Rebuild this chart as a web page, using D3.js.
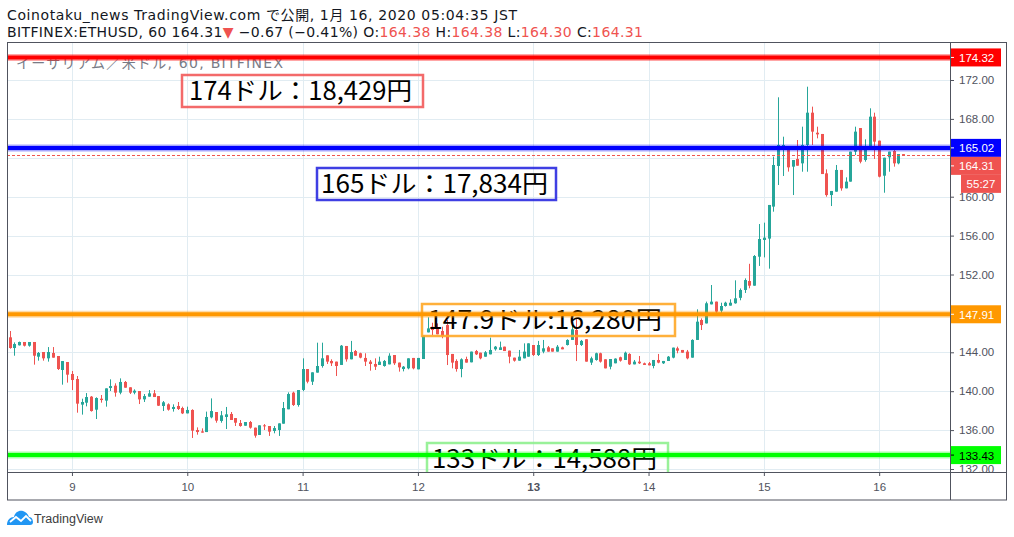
<!DOCTYPE html>
<html><head><meta charset="utf-8">
<script src="https://cdn.jsdelivr.net/npm/d3@7"></script>
<style>
html,body{margin:0;padding:0;background:#fff;}
svg{display:block;font-family:"Liberation Sans","Noto Sans CJK JP",sans-serif;}
</style></head>
<body>
<svg id="chart" width="1014" height="537"></svg>
<script>
// ---------- DATA ----------
const openP = [145.54,144.44,144.72,145.06,144.68,145.06,143.55,144.03,143.38,143.93,143.62,142.18,143.00,141.77,141.25,138.62,138.82,139.44,138.10,139.23,139.03,140.33,140.57,139.85,140.95,140.40,139.85,140.02,139.16,139.44,139.78,139.50,138.48,138.65,138.17,138.48,138.27,137.72,138.07,136.01,135.87,135.80,137.31,137.86,136.94,137.35,137.66,137.24,136.73,136.45,136.83,136.25,135.50,136.49,136.42,135.91,136.01,136.66,138.14,139.85,138.58,140.13,142.28,140.98,141.91,142.59,143.69,143.11,143.04,142.70,144.65,143.28,144.13,143.90,143.42,143.04,142.80,142.70,142.59,142.76,143.72,142.94,142.28,142.35,143.42,142.25,143.31,146.05,146.63,146.39,146.19,146.80,143.83,143.11,142.28,143.31,142.97,144.13,143.96,143.55,143.79,144.31,144.24,144.58,144.17,143.45,143.14,143.38,143.55,144.75,143.72,144.07,144.51,144.41,144.07,144.51,144.75,145.27,146.30,144.75,145.34,142.94,143.21,143.90,143.28,142.52,142.87,143.49,143.21,143.83,142.76,143.04,142.87,142.87,142.59,143.21,142.87,143.11,143.45,144.41,144.24,144.07,143.45,145.27,147.32,146.97,148.93,149.21,148.28,148.76,148.80,149.04,149.60,150.41,151.33,150.85,153.83,155.55,155.69,158.98,163.16,165.15,164.97,163.09,163.88,163.43,165.32,168.64,166.58,166.45,162.40,160.17,160.52,162.75,160.86,161.55,164.63,167.06,163.77,165.14,168.23,165.76,162.16,164.05,164.70,163.43,164.38];
const highP = [146.19,145.02,145.10,145.06,145.06,145.06,144.03,144.03,144.54,144.54,143.62,143.10,143.00,142.08,141.56,139.23,139.81,139.50,139.37,139.61,140.29,141.22,140.81,141.32,141.05,140.40,140.19,140.02,139.71,140.12,140.12,139.50,138.99,138.75,138.65,138.89,138.41,138.41,138.14,136.28,136.18,137.90,139.26,137.86,137.96,138.38,137.86,137.24,137.04,136.83,136.94,136.25,136.49,136.62,136.42,136.42,136.69,138.89,139.88,139.95,140.12,143.38,142.28,141.94,144.99,144.99,143.69,143.28,143.04,144.75,144.65,145.17,144.24,143.96,143.90,143.21,143.38,143.55,143.21,143.90,143.72,142.94,142.59,143.38,143.42,143.42,145.71,147.60,147.04,146.97,146.63,147.32,143.83,143.28,143.38,143.55,144.07,144.24,143.96,144.13,145.51,144.65,145.10,144.58,144.17,143.45,144.24,144.92,144.92,144.75,145.17,145.27,144.65,144.41,144.75,144.58,145.34,146.80,147.40,145.27,145.34,143.55,143.96,143.96,143.28,143.31,143.38,143.55,144.07,143.90,143.21,143.62,142.94,143.00,143.21,143.83,143.11,143.62,144.48,144.58,144.24,144.24,145.34,148.42,147.49,149.21,150.92,149.21,149.10,149.20,149.45,151.40,150.57,151.60,153.10,154.00,157.19,157.33,159.15,164.12,170.22,166.17,164.97,163.77,165.83,167.20,171.31,169.26,167.20,166.45,162.81,160.59,163.26,162.75,161.99,164.63,167.20,167.06,165.90,169.09,168.64,165.76,164.01,164.63,164.80,164.39,164.38];
const lowP = [144.37,143.65,144.70,144.60,144.58,142.73,143.14,143.14,143.04,143.45,142.18,140.67,140.88,140.12,137.79,137.59,138.44,137.90,137.14,138.82,138.41,140.02,139.44,139.68,140.36,139.71,139.68,138.68,138.89,139.44,139.40,138.48,137.96,138.00,137.90,138.07,137.65,137.72,135.19,135.53,135.74,135.80,137.21,136.76,136.76,136.11,137.04,136.42,136.35,136.45,136.15,135.22,135.50,136.01,135.40,135.67,135.40,136.66,138.14,138.48,138.41,140.00,140.81,140.64,141.91,142.42,142.80,142.59,141.56,142.70,143.04,143.28,143.65,143.38,142.59,142.11,142.18,142.70,142.52,142.76,142.70,142.01,142.04,142.25,142.25,142.25,143.31,146.05,145.78,145.85,145.44,142.69,142.35,142.01,141.43,142.94,142.97,143.72,143.28,143.55,143.79,144.17,144.24,144.13,142.87,143.04,143.14,143.38,143.55,143.62,143.62,143.90,144.07,144.07,144.07,144.31,144.70,145.27,143.10,144.65,143.04,142.70,143.14,142.94,142.35,142.25,142.87,143.04,143.21,142.70,142.76,142.80,142.70,142.66,142.35,142.87,142.80,143.11,143.38,143.90,143.96,143.28,143.45,145.27,146.29,146.97,148.93,147.87,147.73,148.70,148.80,149.00,149.35,150.10,150.58,150.85,152.88,153.76,152.60,158.46,161.20,162.13,162.58,160.17,163.19,162.57,162.57,165.32,166.00,162.33,160.00,159.04,160.52,160.62,160.86,161.55,164.29,163.43,163.60,165.14,163.88,161.99,160.41,162.57,163.09,163.33,164.30];
const closeP = [144.44,144.85,145.06,144.68,145.06,143.65,143.93,143.38,144.03,143.45,142.28,143.10,141.70,141.15,138.72,138.89,139.40,137.96,139.30,139.09,140.29,140.53,139.85,140.95,140.36,139.85,140.05,139.16,139.50,139.78,139.40,138.51,138.86,138.10,138.38,138.17,137.72,138.07,135.94,135.80,135.74,137.35,137.96,136.97,137.52,137.62,137.04,136.76,136.42,136.83,136.25,135.43,136.49,136.42,135.84,136.21,136.69,138.27,139.71,138.58,140.12,142.28,140.98,141.94,142.59,143.38,143.04,142.87,142.59,144.68,143.28,144.03,143.65,143.45,143.04,142.80,142.52,143.04,143.11,143.65,142.87,142.45,142.52,143.38,142.35,143.42,145.71,146.46,146.29,145.85,145.68,143.72,142.94,142.28,143.28,142.94,144.07,143.79,143.38,144.00,144.24,144.58,144.51,144.13,143.55,143.14,143.55,144.07,144.92,143.72,144.75,144.41,144.07,144.07,144.58,144.31,145.27,146.36,144.75,145.17,143.04,143.38,143.90,143.04,142.35,143.31,143.35,143.14,143.96,142.76,143.04,142.87,142.70,142.66,143.21,142.94,143.11,143.55,144.48,144.17,143.96,143.38,145.27,147.15,146.80,149.04,149.21,148.18,148.76,149.10,149.10,149.55,150.41,151.43,150.85,153.90,155.65,155.79,159.15,163.26,165.32,165.32,163.02,163.77,163.19,165.32,168.64,166.69,166.41,162.33,160.17,160.59,162.75,160.86,161.55,164.63,166.69,163.60,165.14,168.23,165.66,162.06,164.01,164.63,163.43,164.39,164.31];

const dayLabels = ["9","10","11","12","13","14","15","16"];
const firstDayIndex = 13;        // first candle is Jan 8 11:00, 1h bars
const priceTicks = [132,136,140,144,148,152,156,160,164,168,172];
const hiddenTickLabels = [148,164];
const levelPrices = [174.32,165.02,147.91,133.43];
const levelColors = ["#ff0000","#0000ff","#ff9800","#00ff00"];
const levelTextColors = ["#fff","#fff","#fff","#000"];
const lastPrice = 164.31;
const countdown = "55:27";
const noteTexts = ["174ドル：18,429円","165ドル：17,834円","147.9ドル:16,280円","133ドル：14,588円"];
const noteColors = ["#f25a5a","#2a2ae0","#ffa726","#8ef08e"];

// ---------- LAYOUT ----------
const svg = d3.select("#chart");
const L = 7, R = 950, T = 43, B = 472, RR = 1007, BB = 500;
const n = openP.length;
const x = d3.scaleLinear().domain([0, n-1]).range([9.5, 903.2]);
const y = d3.scaleLinear().domain([132,172]).range([469,80]);
const up = "#26a69a", dn = "#ef5350";
const hdrFont = "'DejaVu Sans','Noto Sans CJK JP',sans-serif";

svg.append("defs").append("clipPath").attr("id","plot")
  .append("rect").attr("x",L).attr("y",T).attr("width",R-L).attr("height",B-T);
svg.select("defs").append("clipPath").attr("id","axisclip")
  .append("rect").attr("x",R).attr("y",T).attr("width",RR-R).attr("height",B-T);

// header
const hdr = svg.append("g").attr("font-size",14).attr("fill","#131722").attr("font-family",hdrFont);
hdr.append("text").attr("x",7).attr("y",20).attr("textLength",510).attr("lengthAdjust","spacing")
  .text("Coinotaku_news TradingView.com で公開, 1月 16, 2020 05:04:35 JST");
const h2 = hdr.append("text").attr("x",7).attr("y",37).attr("textLength",636).attr("lengthAdjust","spacing");
const red = "#ef5350";
[["BITFINEX:ETHUSD, 60 164.31",null],["▼",red],[" −0.67 (−0.41%) O:",null],["164.38",red],[" H:",null],["164.38",red],[" L:",null],["164.30",red],[" C:",null],["164.31",red]]
 .forEach(([t,c])=>{const s=h2.append("tspan").text(t); if(c) s.attr("fill",c);});

const plot = svg.append("g").attr("clip-path","url(#plot)");
// grid
const dayIdx = dayLabels.map((d,i)=>firstDayIndex+24*i);
plot.selectAll(".vg").data(dayIdx).join("line")
  .attr("x1",d=>Math.round(x(d))+0.5).attr("x2",d=>Math.round(x(d))+0.5).attr("y1",T).attr("y2",B)
  .attr("stroke","#e1ecf2");
plot.selectAll(".hg").data(priceTicks).join("line")
  .attr("x1",L).attr("x2",R).attr("y1",d=>Math.round(y(d))+0.5).attr("y2",d=>Math.round(y(d))+0.5)
  .attr("stroke","#e1ecf2");

// watermark title
plot.append("text").attr("x",16).attr("y",68).attr("font-size",14).attr("fill","#787b86")
  .attr("font-family",hdrFont).attr("textLength",267).attr("lengthAdjust","spacing")
  .text("イーサリアム／米ドル, 60, BITFINEX");

// candles
const idx = d3.range(n);
const cg = plot.append("g");
cg.selectAll(".wick").data(idx).join("line")
  .attr("x1",i=>Math.round(x(i))+0.5).attr("x2",i=>Math.round(x(i))+0.5)
  .attr("y1",i=>y(highP[i])).attr("y2",i=>y(lowP[i]))
  .attr("stroke",i=>closeP[i]>=openP[i]?up:dn).attr("stroke-width",1);
cg.selectAll(".body").data(idx).join("rect")
  .attr("x",i=>Math.round(x(i))-1).attr("width",3)
  .attr("y",i=>y(Math.max(openP[i],closeP[i])))
  .attr("height",i=>Math.max(1,Math.abs(y(openP[i])-y(closeP[i]))))
  .attr("fill",i=>closeP[i]>=openP[i]?up:dn);

// notes (text boxes)
const noteBoxes = [
  {x:181,y:74,w:243,h:34,tx:189,tw:223},
  {x:316,y:167,w:241,h:34,tx:321,tw:227},
  {x:421,y:303,w:255,h:34,tx:428,tw:234},
  {x:426,y:442,w:243,h:34,tx:432,tw:225}
];
noteTexts.forEach((t,k)=>{
  const b = noteBoxes[k];
  plot.append("rect").attr("x",b.x+1).attr("y",b.y+1).attr("width",b.w-2).attr("height",b.h-2)
    .attr("fill","none").attr("stroke",noteColors[k]).attr("stroke-width",2.5).attr("stroke-opacity",0.9);
  plot.append("text").attr("x",b.tx).attr("y",b.y+b.h/2+9).attr("font-size",25)
    .attr("textLength",b.tw).attr("lengthAdjust","spacingAndGlyphs")
    .attr("font-family","'Noto Sans CJK JP',sans-serif").attr("fill","#000").text(t);
});

// horizontal levels
levelPrices.forEach((p,k)=>{
  plot.append("line").attr("x1",L).attr("x2",R).attr("y1",y(p)).attr("y2",y(p))
    .attr("stroke",levelColors[k]).attr("stroke-width",7).attr("stroke-opacity",0.35);
  plot.append("line").attr("x1",L).attr("x2",R).attr("y1",y(p)).attr("y2",y(p))
    .attr("stroke",levelColors[k]).attr("stroke-width",4);
});
// last price dashed line
plot.append("line").attr("x1",L).attr("x2",R).attr("y1",Math.round(y(lastPrice))+0.5).attr("y2",Math.round(y(lastPrice))+0.5)
  .attr("stroke",red).attr("stroke-dasharray","3,2").attr("stroke-width",1);

// price axis
const ax = svg.append("g").attr("clip-path","url(#axisclip)");
const yAxis = d3.axisRight(y).tickValues(priceTicks.filter(v=>!hiddenTickLabels.includes(v)))
  .tickFormat(d3.format(".2f")).tickSize(4).tickPadding(5);
const yg = ax.append("g").attr("transform",`translate(${R},0)`).call(yAxis);
yg.select(".domain").remove();
yg.selectAll(".tick line").attr("stroke","#50535e");
yg.selectAll(".tick text").attr("font-size",11.5).attr("fill","#50535e").attr("font-family","'Liberation Sans',sans-serif");

// level labels on axis
const lbl = [...levelPrices.map((p,k)=>({p,bg:levelColors[k],fg:levelTextColors[k],t:p.toFixed(2)})),
  {p:lastPrice,bg:red,fg:"#fff",t:lastPrice.toFixed(2)}];
lbl.forEach((d,k)=>{
  let cy = y(d.p);
  if (k===4) cy = y(levelPrices[1]) + 18; // stacked under the 165.02 label
  const g = ax.append("g");
  g.append("rect").attr("x",R).attr("y",cy-9).attr("width",51).attr("height",18).attr("fill",d.bg);
  g.append("line").attr("x1",R).attr("x2",R+4).attr("y1",cy).attr("y2",cy).attr("stroke",d.fg);
  g.append("text").attr("x",R+9).attr("y",cy+4.5).attr("font-size",11.5).attr("fill",d.fg).text(d.t);
});
{
  const cy = y(levelPrices[1]) + 36;
  ax.append("rect").attr("x",961).attr("y",cy-9).attr("width",40).attr("height",18).attr("fill",red);
  ax.append("text").attr("x",981).attr("y",cy+4.5).attr("text-anchor","middle").attr("font-size",11.5).attr("fill","#fff").text(countdown);
}

// time axis
const xAxis = d3.axisBottom(x).tickValues(dayIdx).tickFormat((d,i)=>dayLabels[i]).tickSize(4).tickPadding(7);
const xg = svg.append("g").attr("transform",`translate(0,${B})`).call(xAxis);
xg.select(".domain").remove();
xg.selectAll(".tick line").attr("stroke","#50535e");
xg.selectAll(".tick text").attr("font-size",11.5).attr("fill","#50535e").attr("font-family","'Liberation Sans',sans-serif")
  .attr("font-weight",(d,i)=>dayLabels[i]==="13"?"bold":"normal");

// frame
const fr = svg.append("g").attr("stroke","#50535e").attr("fill","none");
fr.append("rect").attr("x",L+0.5).attr("y",T-0.5).attr("width",RR-L-1).attr("height",BB-T+0.5);
fr.append("line").attr("x1",R+0.5).attr("x2",R+0.5).attr("y1",T).attr("y2",BB);
fr.append("line").attr("x1",L).attr("x2",RR).attr("y1",B+0.5).attr("y2",B+0.5);

// TradingView logo
const lg = svg.append("g").attr("transform","translate(7,509)");
lg.append("path").attr("d","M0,16 C0,11 3,8 7,8 C8,3 12,1 16,2 C19,3 21,5 22,8 C25,8 26,11 26,13 C26,15 25,16 23,16 Z").attr("fill","#2196f3");
lg.append("path").attr("d","M3,13 L9,8 L14,12 L19,7 L24,12").attr("stroke","#fff").attr("stroke-width",1.8).attr("fill","none");
svg.append("text").attr("x",34).attr("y",523).attr("font-size",12.5).attr("fill","#3c3c3c").text("TradingView");
</script>
</body></html>
